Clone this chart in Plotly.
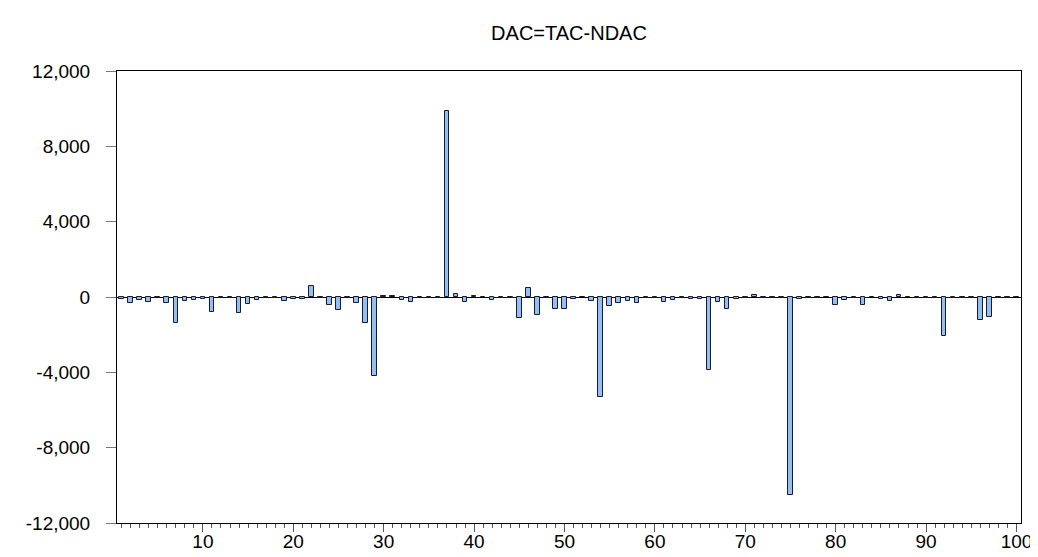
import plotly.graph_objects as go

obs = list(range(1, 101))
dac = [
    -125, -320, -180, -270, -30, -320, -1390, -230, -160, -100,
    -800, -50, -50, -835, -370, -140, -30, -30, -210, -120,
    -100, 570, -30, -450, -680, -50, -300, -1370, -4210, 40,
    30, -140, -270, -50, -50, -30, 9850, 140, -250, 50,
    0, -140, -60, -40, -1100, 495, -975, -50, -640, -640,
    -120, 0, -210, -5330, -480, -340, -210, -310, -40, -40,
    -270, -140, -50, -120, -130, -3860, -250, -620, -120, -50,
    90, -60, -40, -30, -10530, -80, -40, -30, 0, -400,
    -180, -40, -400, 0, -110, -200, 100, 0, -40, -40,
    -60, -2050, -40, -60, -30, -1200, -1080, -40, -40, 0,
]
title_text = "DAC=TAC-NDAC"
y_ticks = [-12000, -8000, -4000, 0, 4000, 8000, 12000]
y_tick_labels = ["-12,000", "-8,000", "-4,000", "0", "4,000", "8,000", "12,000"]

font_family = "Liberation Sans, Arial, sans-serif"

# page body has an 8px margin, so the figure is drawn 8px in from the corner
W, H = 1030, 549
L, T, R, B = 109, 63, 1013, 515   # plot area edges inside the figure

fig = go.Figure()
fig.add_trace(go.Bar(
    x=obs, y=dac, width=0.5,
    marker=dict(color="#94BFF5", line=dict(color="#1a1a2a", width=1)),
))

fig.update_layout(
    width=W, height=H,
    margin=dict(l=L, r=W - R, t=T, b=H - B, autoexpand=False),
    paper_bgcolor="white", plot_bgcolor="white",
    showlegend=False,
    font=dict(family=font_family, size=19, color="black"),
    title=dict(text=title_text, x=(L + R) / 2 / W, xanchor="center",
               y=1 - 25 / H, yanchor="middle",
               font=dict(family=font_family, size=20, color="black")),
    bargap=0,
)
fig.update_xaxes(
    range=[0.5, 100.5], automargin=False,
    tickmode="linear", tick0=0, dtick=10,
    ticks="outside", ticklen=8, tickcolor="#555555", tickwidth=1,
    ticklabelstandoff=-7,
    minor=dict(dtick=1, tick0=0, ticks="outside", ticklen=4, tickcolor="#555555", showgrid=False),
    showline=True, linecolor="black", linewidth=1, mirror=True,
    showgrid=False, zeroline=False,
    tickfont=dict(family=font_family, size=19),
)
fig.update_yaxes(
    range=[-12000, 12000], automargin=False,
    tickmode="array", tickvals=y_ticks, ticktext=y_tick_labels,
    ticks="outside", ticklen=10, tickcolor="#777777", tickwidth=1,
    ticklabelstandoff=12,
    showline=True, linecolor="black", linewidth=1, mirror=True,
    showgrid=False, zeroline=True, zerolinecolor="black", zerolinewidth=1,
    tickfont=dict(family=font_family, size=19),
)

fig.write_html("out.html")
